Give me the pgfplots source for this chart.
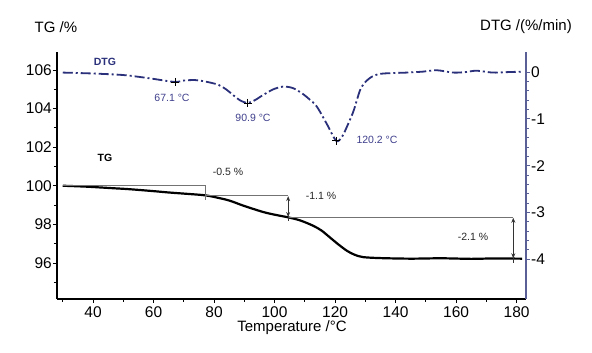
\documentclass[border=0pt]{standalone}
\usepackage{pgfplots}
\pgfplotsset{compat=1.18}
\usepackage{fontspec}
\setmainfont{Liberation Sans}
\usetikzlibrary{arrows.meta}
\definecolor{dtgc}{RGB}{42,48,122}
\definecolor{dtgtxt}{RGB}{62,62,140}
\definecolor{dtgax}{RGB}{90,95,150}
\definecolor{annot}{RGB}{115,115,115}
\begin{document}
\begin{tikzpicture}[x=1pt,y=1pt]
\useasboundingbox (0,0) rectangle (592,353);
\begin{axis}[
  at={(57pt,54pt)}, anchor=south west, scale only axis,
  width=469pt, height=247pt,
  xmin=28.1, xmax=183.1, ymin=94.13, ymax=106.93,
  axis x line*=bottom, axis y line*=left,
  axis line style={line width=1.2pt, black},
  xtick={40,60,...,180}, minor xtick={30,50,...,170},
  ytick={96,98,...,106}, minor ytick={95,97,...,105},
  tick align=outside, major tick length=4pt, minor tick length=3pt,
  tick style={black, line width=0.8pt},
  ticklabel style={font=\fontsize{15.5}{15.5}\selectfont},
  yticklabel style={inner sep=1pt},
  xticklabel style={inner sep=1pt, yshift=-2pt},
  /pgf/number format/assume math mode=true,
  clip=false,
]
\addplot[black, line width=2.2pt, smooth] coordinates {
(30,100.0)(38,99.95)(45.6,99.88)(52,99.82)(60,99.72)(65,99.65)(71,99.58)(77.2,99.5)
(82,99.35)(85.3,99.22)(90,98.95)(96.2,98.64)(100,98.5)(104.5,98.36)(108.5,98.2)
(112.7,97.93)(115.5,97.68)(118.3,97.32)(121,96.97)(123.9,96.63)(126.5,96.42)
(129.3,96.3)(134.9,96.25)(145,96.22)(155,96.24)(165,96.21)(172,96.23)(181.8,96.22)};
\addplot[annot, line width=1pt] coordinates {(30,100)(77.2,100)(77.2,99.27)};
\addplot[annot, line width=1pt] coordinates {(77.2,99.48)(104.5,99.48)};
\addplot[annot, line width=1pt] coordinates {(104.5,98.36)(178.9,98.36)};
\addplot[black!80, line width=0.9pt, {Stealth[length=5pt,width=4pt]}-{Stealth[length=5pt,width=4pt]}] coordinates {(104.5,99.46)(104.5,98.38)};
\addplot[black!80, line width=0.9pt] coordinates {(104.5,98.38)(104.5,98.19)};
\addplot[black!80, line width=0.9pt, {Stealth[length=5pt,width=4pt]}-{Stealth[length=5pt,width=4pt]}] coordinates {(178.9,98.34)(178.9,96.24)};
\addplot[black!80, line width=0.9pt] coordinates {(178.9,96.24)(178.9,96.0)};
\end{axis}
\begin{axis}[
  at={(57pt,54pt)}, anchor=south west, scale only axis,
  width=469pt, height=247pt,
  xmin=28.1, xmax=183.1, ymin=-4.85, ymax=0.43,
  axis x line=none, axis y line*=right,
  axis line style={line width=1.2pt, dtgax},
  ytick={-4,-3,-2,-1,0}, minor tick num=4,
  tick align=outside, major tick length=4pt, minor tick length=2.5pt,
  tick style={dtgax, line width=0.8pt},
  ticklabel style={font=\fontsize{15.5}{15.5}\selectfont},
  yticklabel style={inner sep=1pt},
  /pgf/number format/assume math mode=true,
  clip=false,
]
\addplot[dtgc, line width=1.8pt, smooth, dash pattern=on 10pt off 3pt on 2pt off 3pt] coordinates {
(30,-0.01)(40,-0.03)(49.5,-0.06)(55,-0.1)(60.5,-0.15)(67.1,-0.21)(70,-0.18)(73.7,-0.17)
(77,-0.2)(81.4,-0.27)(84,-0.37)(86.3,-0.49)(88.5,-0.6)(91.1,-0.66)(93.5,-0.6)(96.2,-0.49)
(99.5,-0.37)(102.8,-0.31)(106,-0.34)(109,-0.45)(111.5,-0.58)(114,-0.74)(117.2,-1.1)
(120.4,-1.47)(122.3,-1.38)(123.9,-1.17)(126,-0.85)(127.2,-0.6)(128.5,-0.35)(130.5,-0.18)
(133,-0.07)(136,-0.03)(143.7,-0.01)(149,0.01)(153.6,0.04)(159,-0.01)(163,0.0)(166.8,0.03)
(172,-0.01)(177,0.0)(181.7,0.01)};
\addplot[only marks, mark=+, mark size=4pt, black, mark options={line width=0.8pt}]
  coordinates {(67.1,-0.21)(91.1,-0.66)(120.4,-1.47)};
\end{axis}
\node[font=\fontsize{15}{15}\selectfont] at (56,326) {TG /\%};
\node[font=\fontsize{15}{15}\selectfont] at (526,326) {DTG /(\%/min)};
\node[font=\fontsize{15}{15}\selectfont] at (292,25) {Temperature /°C};
\node[font=\fontsize{10.5}{10.5}\selectfont\bfseries, text=dtgc] at (105,291) {DTG};
\node[font=\fontsize{10.5}{10.5}\selectfont\bfseries] at (105,195) {TG};
\node[font=\fontsize{10.5}{10.5}\selectfont, text=black!85] at (228,181) {-0.5 \%};
\node[font=\fontsize{10.5}{10.5}\selectfont, text=black!85] at (321,157) {-1.1 \%};
\node[font=\fontsize{10.5}{10.5}\selectfont, text=black!85] at (473,116) {-2.1 \%};
\node[font=\fontsize{10.5}{10.5}\selectfont, text=dtgtxt] at (172,255) {67.1 °C};
\node[font=\fontsize{10.5}{10.5}\selectfont, text=dtgtxt] at (253,235) {90.9 °C};
\node[font=\fontsize{10.5}{10.5}\selectfont, text=dtgtxt] at (377,213) {120.2 °C};
\end{tikzpicture}
\end{document}
